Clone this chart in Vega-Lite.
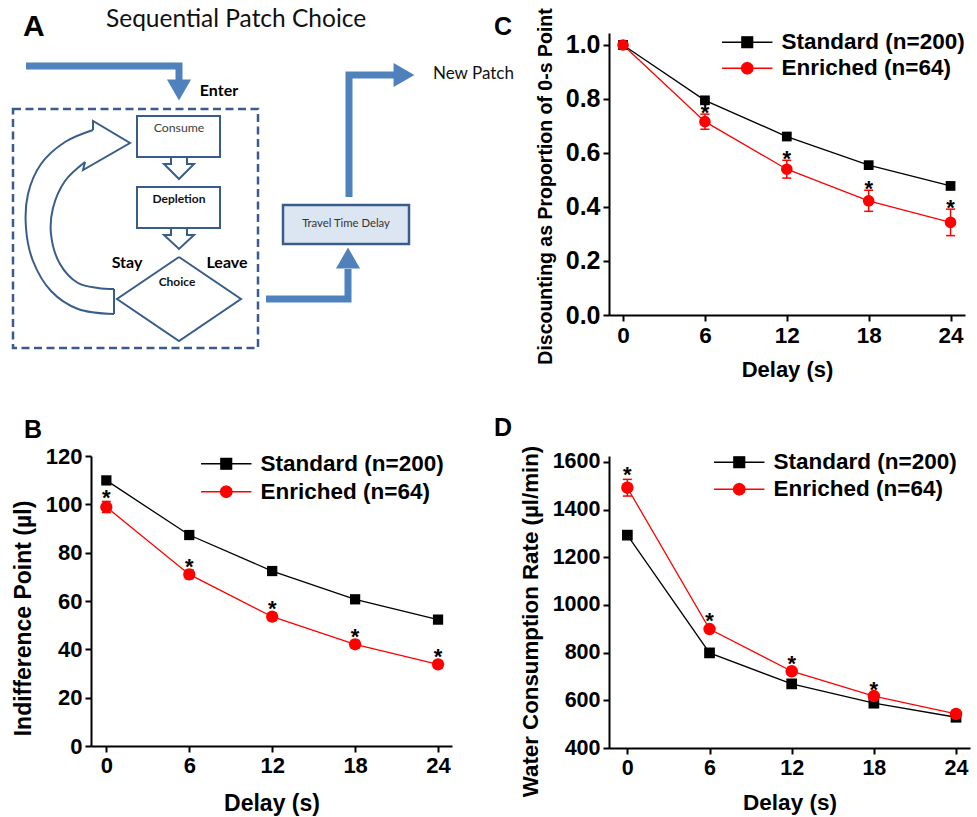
{
  "$schema": "https://vega.github.io/schema/vega-lite/v6.json",
  "background": "white",
  "padding": {"left": 11, "top": 7, "right": 2, "bottom": 2},
  "bounds": "flush",
  "align": "each",
  "columns": 2,
  "spacing": {"row": 141, "column": 111},
  "resolve": {
    "scale": {"color": "independent", "shape": "independent", "stroke": "independent", "fill": "independent", "size": "independent"},
    "legend": {"color": "independent", "shape": "independent", "stroke": "independent", "fill": "independent", "size": "independent"}
  },
  "config": {
    "view": {"stroke": null},
    "font": "Liberation Sans",
    "axis": {"grid": false, "domainColor": "#000000", "domainWidth": 2, "tickColor": "#000000", "tickWidth": 2, "tickSize": 6,
      "labelFont": "Liberation Sans", "labelFontSize": 22, "labelFontWeight": "bold", "labelColor": "#000000", "labelPadding": 3,
      "titleFont": "Liberation Sans", "titleFontSize": 22.5, "titleFontWeight": "bold", "titleColor": "#000000", "labelFlush": false, "labelOverlap": false},
    "legend": {"orient": "none", "title": null, "labelFont": "Liberation Sans", "labelFontSize": 22.5, "labelFontWeight": "bold", "labelColor": "#000000", "symbolSize": 144, "labelOffset": 23, "padding": 0, "labelLimit": 400}
  },
  "datasets": {
    "B": [
      {"delay": 0, "group": "Standard (n=200)", "value": 109.9, "lo": 108.9, "hi": 110.9, "sig": ""},
      {"delay": 6, "group": "Standard (n=200)", "value": 87.3, "lo": 86.5, "hi": 88.1, "sig": ""},
      {"delay": 12, "group": "Standard (n=200)", "value": 72.4, "lo": 71.7, "hi": 73.1, "sig": ""},
      {"delay": 18, "group": "Standard (n=200)", "value": 60.7, "lo": 60.0, "hi": 61.4, "sig": ""},
      {"delay": 24, "group": "Standard (n=200)", "value": 52.3, "lo": 51.6, "hi": 53.0, "sig": ""},
      {"delay": 0, "group": "Enriched (n=64)", "value": 98.9, "lo": 96.6, "hi": 101.2, "sig": "*"},
      {"delay": 6, "group": "Enriched (n=64)", "value": 71.0, "lo": 69.2, "hi": 72.8, "sig": "*"},
      {"delay": 12, "group": "Enriched (n=64)", "value": 53.5, "lo": 51.9, "hi": 55.1, "sig": "*"},
      {"delay": 18, "group": "Enriched (n=64)", "value": 42.1, "lo": 40.5, "hi": 43.7, "sig": "*"},
      {"delay": 24, "group": "Enriched (n=64)", "value": 33.8, "lo": 32.4, "hi": 35.2, "sig": "*"}
    ],
    "C": [
      {"delay": 0, "group": "Standard (n=200)", "value": 1.0, "lo": 0.99, "hi": 1.01, "sig": ""},
      {"delay": 6, "group": "Standard (n=200)", "value": 0.795, "lo": 0.787, "hi": 0.803, "sig": ""},
      {"delay": 12, "group": "Standard (n=200)", "value": 0.661, "lo": 0.653, "hi": 0.669, "sig": ""},
      {"delay": 18, "group": "Standard (n=200)", "value": 0.555, "lo": 0.547, "hi": 0.563, "sig": ""},
      {"delay": 24, "group": "Standard (n=200)", "value": 0.478, "lo": 0.470, "hi": 0.486, "sig": ""},
      {"delay": 0, "group": "Enriched (n=64)", "value": 1.0, "lo": 0.985, "hi": 1.015, "sig": ""},
      {"delay": 6, "group": "Enriched (n=64)", "value": 0.716, "lo": 0.688, "hi": 0.744, "sig": "*"},
      {"delay": 12, "group": "Enriched (n=64)", "value": 0.540, "lo": 0.507, "hi": 0.573, "sig": "*"},
      {"delay": 18, "group": "Enriched (n=64)", "value": 0.423, "lo": 0.384, "hi": 0.462, "sig": "*"},
      {"delay": 24, "group": "Enriched (n=64)", "value": 0.343, "lo": 0.294, "hi": 0.392, "sig": "*"}
    ],
    "D": [
      {"delay": 0, "group": "Standard (n=200)", "value": 1293, "lo": 1283, "hi": 1303, "sig": ""},
      {"delay": 6, "group": "Standard (n=200)", "value": 799, "lo": 791, "hi": 807, "sig": ""},
      {"delay": 12, "group": "Standard (n=200)", "value": 669, "lo": 662, "hi": 676, "sig": ""},
      {"delay": 18, "group": "Standard (n=200)", "value": 588, "lo": 582, "hi": 594, "sig": ""},
      {"delay": 24, "group": "Standard (n=200)", "value": 529, "lo": 523, "hi": 535, "sig": ""},
      {"delay": 0, "group": "Enriched (n=64)", "value": 1492, "lo": 1457, "hi": 1527, "sig": "*"},
      {"delay": 6, "group": "Enriched (n=64)", "value": 899, "lo": 886, "hi": 912, "sig": "*"},
      {"delay": 12, "group": "Enriched (n=64)", "value": 722, "lo": 712, "hi": 732, "sig": "*"},
      {"delay": 18, "group": "Enriched (n=64)", "value": 618, "lo": 610, "hi": 626, "sig": "*"},
      {"delay": 24, "group": "Enriched (n=64)", "value": 543, "lo": 537, "hi": 549, "sig": ""}
    ],
    "arrows": [
      {"part": "p1", "seq": 1, "x": 28, "y": 65}, {"part": "p1", "seq": 2, "x": 181, "y": 65}, {"part": "p1", "seq": 3, "x": 181, "y": 80},
      {"part": "p2", "seq": 1, "x": 268, "y": 298}, {"part": "p2", "seq": 2, "x": 350, "y": 298}, {"part": "p2", "seq": 3, "x": 350, "y": 268},
      {"part": "p3", "seq": 1, "x": 351, "y": 196}, {"part": "p3", "seq": 2, "x": 351, "y": 74}, {"part": "p3", "seq": 3, "x": 397, "y": 74}
    ],
    "heads": [
      {"dir": "down", "x": 181, "y": 89},
      {"dir": "up", "x": 350, "y": 257},
      {"dir": "right", "x": 406, "y": 74}
    ],
    "boxes": [
      {"kind": "frame", "x": 15, "x2": 260, "y": 108, "y2": 347},
      {"kind": "box", "x": 139, "x2": 222, "y": 115, "y2": 156},
      {"kind": "box", "x": 139, "x2": 222, "y": 186, "y2": 227},
      {"kind": "travel", "x": 285, "x2": 411, "y": 204, "y2": 243}
    ],
    "outlines": [
      {"part": "diamond", "seq": 1, "x": 181, "y": 256}, {"part": "diamond", "seq": 2, "x": 243, "y": 298}, {"part": "diamond", "seq": 3, "x": 181, "y": 340}, {"part": "diamond", "seq": 4, "x": 119, "y": 298}, {"part": "diamond", "seq": 5, "x": 181, "y": 256},
      {"part": "a1", "seq": 1, "x": 173, "y": 156}, {"part": "a1", "seq": 2, "x": 173, "y": 163}, {"part": "a1", "seq": 3, "x": 166, "y": 163}, {"part": "a1", "seq": 4, "x": 181, "y": 178}, {"part": "a1", "seq": 5, "x": 196, "y": 163}, {"part": "a1", "seq": 6, "x": 189, "y": 163}, {"part": "a1", "seq": 7, "x": 189, "y": 156},
      {"part": "a2", "seq": 1, "x": 173, "y": 227}, {"part": "a2", "seq": 2, "x": 173, "y": 234}, {"part": "a2", "seq": 3, "x": 166, "y": 234}, {"part": "a2", "seq": 4, "x": 181, "y": 248}, {"part": "a2", "seq": 5, "x": 196, "y": 234}, {"part": "a2", "seq": 6, "x": 189, "y": 234}, {"part": "a2", "seq": 7, "x": 189, "y": 227},
      {"part": "head", "seq": 1, "x": 95, "y": 129}, {"part": "head", "seq": 2, "x": 95, "y": 120}, {"part": "head", "seq": 3, "x": 132, "y": 142}, {"part": "head", "seq": 4, "x": 85, "y": 169}, {"part": "head", "seq": 5, "x": 87, "y": 161},
      {"part": "cap", "seq": 1, "x": 116, "y": 288}, {"part": "cap", "seq": 2, "x": 116, "y": 313}
    ],
    "curves": [
      {"part": "outer", "seq": 1, "x": 116, "y": 313}, {"part": "outer", "seq": 2, "x": 80, "y": 308}, {"part": "outer", "seq": 3, "x": 53, "y": 290}, {"part": "outer", "seq": 4, "x": 35, "y": 260}, {"part": "outer", "seq": 5, "x": 28, "y": 227}, {"part": "outer", "seq": 6, "x": 30, "y": 193}, {"part": "outer", "seq": 7, "x": 43, "y": 163}, {"part": "outer", "seq": 8, "x": 67, "y": 141}, {"part": "outer", "seq": 9, "x": 95, "y": 129},
      {"part": "inner", "seq": 1, "x": 87, "y": 161}, {"part": "inner", "seq": 2, "x": 67, "y": 180}, {"part": "inner", "seq": 3, "x": 55, "y": 207}, {"part": "inner", "seq": 4, "x": 53, "y": 233}, {"part": "inner", "seq": 5, "x": 62, "y": 263}, {"part": "inner", "seq": 6, "x": 80, "y": 282}, {"part": "inner", "seq": 7, "x": 100, "y": 287}, {"part": "inner", "seq": 8, "x": 116, "y": 288}
    ],
    "labels": [
      {"kind": "title", "text": "Sequential Patch Choice", "x": 108, "y": 19},
      {"kind": "panel", "text": "A", "x": 25, "y": 26},
      {"kind": "bold16", "text": "Enter", "x": 221, "y": 90},
      {"kind": "bold16", "text": "Stay", "x": 129, "y": 262},
      {"kind": "bold16", "text": "Leave", "x": 229, "y": 262},
      {"kind": "bold12", "text": "Depletion", "x": 181, "y": 198},
      {"kind": "bold12", "text": "Choice", "x": 179, "y": 281},
      {"kind": "plain12", "text": "Consume", "x": 181, "y": 127},
      {"kind": "travel", "text": "Travel Time Delay", "x": 348, "y": 223},
      {"kind": "newpatch", "text": "New Patch", "x": 435, "y": 73}
    ]
  },
  "concat": [
    {
      "width": 407, "height": 282,
      "encoding": {
        "x": {"field": "x", "type": "quantitative", "scale": {"domain": [93, 500], "nice": false, "zero": false}, "axis": null},
        "y": {"field": "y", "type": "quantitative", "scale": {"domain": [32, 314], "nice": false, "zero": false, "reverse": true}, "axis": null}
      },
      "layer": [
        {"data": {"name": "boxes"}, "transform": [{"filter": "datum.kind == 'frame'"}], "mark": {"type": "rect", "fill": "transparent", "stroke": "#385D8A", "strokeWidth": 2.5, "strokeDash": [8, 4.5]}, "encoding": {"x2": {"field": "x2"}, "y2": {"field": "y2"}}},
        {"data": {"name": "boxes"}, "transform": [{"filter": "datum.kind == 'box'"}], "mark": {"type": "rect", "fill": "#ffffff", "stroke": "#385D8A", "strokeWidth": 2}, "encoding": {"x2": {"field": "x2"}, "y2": {"field": "y2"}}},
        {"data": {"name": "boxes"}, "transform": [{"filter": "datum.kind == 'travel'"}], "mark": {"type": "rect", "fill": "#DCE6F2", "stroke": "#385D8A", "strokeWidth": 2.5}, "encoding": {"x2": {"field": "x2"}, "y2": {"field": "y2"}}},
        {"data": {"name": "outlines"}, "mark": {"type": "line", "color": "#385D8A", "strokeWidth": 2, "strokeJoin": "miter"}, "encoding": {"detail": {"field": "part"}, "order": {"field": "seq", "type": "quantitative"}}},
        {"data": {"name": "curves"}, "mark": {"type": "line", "color": "#385D8A", "strokeWidth": 2, "interpolate": "catmull-rom"}, "encoding": {"detail": {"field": "part"}, "order": {"field": "seq", "type": "quantitative"}}},
        {"data": {"name": "arrows"}, "mark": {"type": "line", "color": "#4F81BD", "strokeWidth": 7, "strokeJoin": "miter", "strokeCap": "butt"}, "encoding": {"detail": {"field": "part"}, "order": {"field": "seq", "type": "quantitative"}}},
        {"data": {"name": "heads"}, "mark": {"type": "point", "filled": true, "opacity": 1, "color": "#4F81BD", "size": 580}, "encoding": {"shape": {"field": "dir", "type": "nominal", "scale": {"domain": ["down", "up", "right"], "range": ["triangle-down", "triangle-up", "triangle-right"]}, "legend": null}}},
        {"data": {"name": "labels"}, "transform": [{"filter": "datum.kind == 'title'"}], "mark": {"type": "text", "font": "Lato", "fontSize": 24.5, "align": "left", "baseline": "middle", "color": "#111111"}, "encoding": {"text": {"field": "text"}}},
        {"data": {"name": "labels"}, "transform": [{"filter": "datum.kind == 'panel'"}], "mark": {"type": "text", "font": "Liberation Sans", "fontWeight": "bold", "fontSize": 30, "align": "left", "baseline": "middle", "color": "#000000"}, "encoding": {"text": {"field": "text"}}},
        {"data": {"name": "labels"}, "transform": [{"filter": "datum.kind == 'bold16'"}], "mark": {"type": "text", "font": "Lato", "fontWeight": "bold", "fontSize": 16, "align": "center", "baseline": "middle", "color": "#000000"}, "encoding": {"text": {"field": "text"}}},
        {"data": {"name": "labels"}, "transform": [{"filter": "datum.kind == 'bold12'"}], "mark": {"type": "text", "font": "Lato", "fontWeight": "bold", "fontSize": 12, "align": "center", "baseline": "middle", "color": "#111111"}, "encoding": {"text": {"field": "text"}}},
        {"data": {"name": "labels"}, "transform": [{"filter": "datum.kind == 'plain12'"}], "mark": {"type": "text", "font": "Lato", "fontSize": 12.3, "align": "center", "baseline": "middle", "color": "#404040"}, "encoding": {"text": {"field": "text"}}},
        {"data": {"name": "labels"}, "transform": [{"filter": "datum.kind == 'travel'"}], "mark": {"type": "text", "font": "Lato", "fontSize": 11.3, "align": "center", "baseline": "middle", "color": "#333333"}, "encoding": {"text": {"field": "text"}}},
        {"data": {"name": "labels"}, "transform": [{"filter": "datum.kind == 'newpatch'"}], "mark": {"type": "text", "font": "Lato", "fontSize": 17, "align": "left", "baseline": "middle", "color": "#111111"}, "encoding": {"text": {"field": "text"}}}
      ]
    },
    {
      "width": 356, "height": 282,
      "data": {"name": "C"},
      "title": {"text": "C", "anchor": "start", "frame": "group", "font": "Liberation Sans", "fontSize": 25, "fontWeight": "bold", "color": "#000000", "baseline": "alphabetic", "offset": 0, "dx": -115, "dy": 52},
      "encoding": {
        "x": {"field": "delay", "type": "quantitative", "scale": {"domain": [-1.03, 25.06], "nice": false, "zero": false}, "axis": {"values": [0, 6, 12, 18, 24], "title": "Delay (s)", "titlePadding": 13, "labelFontSize": 22.5, "titleFontSize": 22}}
      },
      "layer": [
        {"mark": {"type": "line", "strokeWidth": 1.3}, "encoding": {
          "y": {"field": "value", "type": "quantitative", "scale": {"domain": [0, 1.0444], "nice": false, "zero": false}, "axis": {"values": [0, 0.2, 0.4, 0.6, 0.8, 1.0], "format": ".1f", "title": "Discounting as Proportion of 0-s Point", "titleFontSize": 19.5, "labelFontSize": 25, "titlePadding": 10, "titleY": 153}},
          "stroke": {"field": "group", "type": "nominal", "scale": {"domain": ["Enriched (n=64)", "Standard (n=200)"], "range": ["#ff0000", "#000000"]},
            "legend": {"legendX": 127, "legendY": -2, "rowPadding": 3, "values": ["Standard (n=200)", "Enriched (n=64)"], "symbolType": "M-4.2,0H4.2M-0.9,-0.9H0.9V0.9H-0.9Z", "symbolStrokeWidth": 1.3,
              "encoding": {"symbols": {
                "shape": {"value": {"expr": "datum.value == 'Standard (n=200)' ? 'M-4.2,0H4.2M-0.9,-0.9H0.9V0.9H-0.9Z' : 'M-4.2,0H4.2M0.97,0L0.84,0.485L0.485,0.84L0,0.97L-0.485,0.84L-0.84,0.485L-0.97,0L-0.84,-0.485L-0.485,-0.84L0,-0.97L0.485,-0.84L0.84,-0.485Z'"}},
                "fill": {"value": {"expr": "datum.value == 'Standard (n=200)' ? '#000000' : '#ff0000'"}}}}}}}},
        {"mark": {"type": "rule", "strokeWidth": 1.5}, "encoding": {
          "y": {"field": "lo", "type": "quantitative", "scale": {"domain": [0, 1.0444], "nice": false, "zero": false}, "title": "Discounting as Proportion of 0-s Point"},
          "y2": {"field": "hi"},
          "stroke": {"field": "group", "type": "nominal", "scale": {"domain": ["Enriched (n=64)", "Standard (n=200)"], "range": ["#ff0000", "#000000"]}, "legend": null}}},
        {"mark": {"type": "tick", "orient": "horizontal", "size": 9, "thickness": 1.5, "opacity": 1}, "encoding": {
          "y": {"field": "lo", "type": "quantitative", "scale": {"domain": [0, 1.0444], "nice": false, "zero": false}, "title": "Discounting as Proportion of 0-s Point"},
          "fill": {"field": "group", "type": "nominal", "scale": {"domain": ["Standard (n=200)", "Enriched (n=64)"], "range": ["#000000", "#ff0000"]}, "legend": null}}},
        {"mark": {"type": "tick", "orient": "horizontal", "size": 9, "thickness": 1.5, "opacity": 1}, "encoding": {
          "y": {"field": "hi", "type": "quantitative", "scale": {"domain": [0, 1.0444], "nice": false, "zero": false}, "title": "Discounting as Proportion of 0-s Point"},
          "fill": {"field": "group", "type": "nominal", "scale": {"domain": ["Standard (n=200)", "Enriched (n=64)"], "range": ["#000000", "#ff0000"]}, "legend": null}}},
        {"transform": [{"filter": "datum.group == 'Standard (n=200)'"}], "mark": {"type": "point", "filled": true, "opacity": 1, "shape": "square", "size": 95, "color": "#000000"}, "encoding": {
          "y": {"field": "value", "type": "quantitative", "scale": {"domain": [0, 1.0444], "nice": false, "zero": false}, "title": "Discounting as Proportion of 0-s Point"}}},
        {"transform": [{"filter": "datum.group == 'Enriched (n=64)'"}], "mark": {"type": "point", "filled": true, "opacity": 1, "shape": "circle", "size": 135, "color": "#ff0000"}, "encoding": {
          "y": {"field": "value", "type": "quantitative", "scale": {"domain": [0, 1.0444], "nice": false, "zero": false}, "title": "Discounting as Proportion of 0-s Point"}}},
        {"transform": [{"filter": "datum.sig != ''"}], "mark": {"type": "text", "font": "Liberation Sans", "fontWeight": "bold", "fontSize": 22, "baseline": "alphabetic", "dy": 6, "color": "#000000"}, "encoding": {
          "y": {"field": "hi", "type": "quantitative", "scale": {"domain": [0, 1.0444], "nice": false, "zero": false}, "title": "Discounting as Proportion of 0-s Point"},
          "text": {"field": "sig"}}}
      ]
    },
    {
      "width": 361, "height": 290,
      "data": {"name": "B"},
      "title": {"text": "B", "anchor": "start", "frame": "group", "font": "Liberation Sans", "fontSize": 25, "fontWeight": "bold", "color": "#000000", "baseline": "alphabetic", "offset": 0, "dx": -67, "dy": 18},
      "encoding": {
        "x": {"field": "delay", "type": "quantitative", "scale": {"domain": [-1.11, 25.01], "nice": false, "zero": false}, "axis": {"values": [0, 6, 12, 18, 24], "title": "Delay (s)", "titlePadding": 16, "titleFontSize": 23}}
      },
      "layer": [
        {"mark": {"type": "line", "strokeWidth": 1.3}, "encoding": {
          "y": {"field": "value", "type": "quantitative", "scale": {"domain": [0, 120], "nice": false, "zero": false}, "axis": {"values": [0, 20, 40, 60, 80, 100, 120], "format": "d", "title": "Indifference Point (µl)", "titleFontSize": 23, "titlePadding": 10, "titleY": 162}},
          "stroke": {"field": "group", "type": "nominal", "scale": {"domain": ["Enriched (n=64)", "Standard (n=200)"], "range": ["#ff0000", "#000000"]},
            "legend": {"legendX": 124, "legendY": -3.5, "rowPadding": 5, "values": ["Standard (n=200)", "Enriched (n=64)"], "symbolType": "M-4.2,0H4.2M-0.9,-0.9H0.9V0.9H-0.9Z", "symbolStrokeWidth": 1.3,
              "encoding": {"symbols": {
                "shape": {"value": {"expr": "datum.value == 'Standard (n=200)' ? 'M-4.2,0H4.2M-0.9,-0.9H0.9V0.9H-0.9Z' : 'M-4.2,0H4.2M0.97,0L0.84,0.485L0.485,0.84L0,0.97L-0.485,0.84L-0.84,0.485L-0.97,0L-0.84,-0.485L-0.485,-0.84L0,-0.97L0.485,-0.84L0.84,-0.485Z'"}},
                "fill": {"value": {"expr": "datum.value == 'Standard (n=200)' ? '#000000' : '#ff0000'"}}}}}}}},
        {"mark": {"type": "rule", "strokeWidth": 1.5}, "encoding": {
          "y": {"field": "lo", "type": "quantitative", "scale": {"domain": [0, 120], "nice": false, "zero": false}, "title": "Indifference Point (µl)"},
          "y2": {"field": "hi"},
          "stroke": {"field": "group", "type": "nominal", "scale": {"domain": ["Enriched (n=64)", "Standard (n=200)"], "range": ["#ff0000", "#000000"]}, "legend": null}}},
        {"mark": {"type": "tick", "orient": "horizontal", "size": 9, "thickness": 1.5, "opacity": 1}, "encoding": {
          "y": {"field": "lo", "type": "quantitative", "scale": {"domain": [0, 120], "nice": false, "zero": false}, "title": "Indifference Point (µl)"},
          "fill": {"field": "group", "type": "nominal", "scale": {"domain": ["Standard (n=200)", "Enriched (n=64)"], "range": ["#000000", "#ff0000"]}, "legend": null}}},
        {"mark": {"type": "tick", "orient": "horizontal", "size": 9, "thickness": 1.5, "opacity": 1}, "encoding": {
          "y": {"field": "hi", "type": "quantitative", "scale": {"domain": [0, 120], "nice": false, "zero": false}, "title": "Indifference Point (µl)"},
          "fill": {"field": "group", "type": "nominal", "scale": {"domain": ["Standard (n=200)", "Enriched (n=64)"], "range": ["#000000", "#ff0000"]}, "legend": null}}},
        {"transform": [{"filter": "datum.group == 'Standard (n=200)'"}], "mark": {"type": "point", "filled": true, "opacity": 1, "shape": "square", "size": 105, "color": "#000000"}, "encoding": {
          "y": {"field": "value", "type": "quantitative", "scale": {"domain": [0, 120], "nice": false, "zero": false}, "title": "Indifference Point (µl)"}}},
        {"transform": [{"filter": "datum.group == 'Enriched (n=64)'"}], "mark": {"type": "point", "filled": true, "opacity": 1, "shape": "circle", "size": 150, "color": "#ff0000"}, "encoding": {
          "y": {"field": "value", "type": "quantitative", "scale": {"domain": [0, 120], "nice": false, "zero": false}, "title": "Indifference Point (µl)"}}},
        {"transform": [{"filter": "datum.sig != ''"}], "mark": {"type": "text", "font": "Liberation Sans", "fontWeight": "bold", "fontSize": 22, "baseline": "alphabetic", "dy": 3.5, "color": "#000000"}, "encoding": {
          "y": {"field": "hi", "type": "quantitative", "scale": {"domain": [0, 120], "nice": false, "zero": false}, "title": "Indifference Point (µl)"},
          "text": {"field": "sig"}}}
      ]
    },
    {
      "width": 361, "height": 292,
      "data": {"name": "D"},
      "title": {"text": "D", "anchor": "start", "frame": "group", "font": "Liberation Sans", "fontSize": 25, "fontWeight": "bold", "color": "#000000", "baseline": "alphabetic", "offset": 0, "dx": -115, "dy": 16},
      "encoding": {
        "x": {"field": "delay", "type": "quantitative", "scale": {"domain": [-1.34, 25.02], "nice": false, "zero": false}, "axis": {"values": [0, 6, 12, 18, 24], "title": "Delay (s)", "titlePadding": 13, "labelFontSize": 21.5}}
      },
      "layer": [
        {"mark": {"type": "line", "strokeWidth": 1.3}, "encoding": {
          "y": {"field": "value", "type": "quantitative", "scale": {"domain": [400, 1625], "nice": false, "zero": false}, "axis": {"values": [400, 600, 800, 1000, 1200, 1400, 1600], "format": "d", "title": "Water Consumption Rate (µl/min)", "titleFontSize": 22.3, "labelFontSize": 21.5, "titlePadding": 10, "titleY": 165}},
          "stroke": {"field": "group", "type": "nominal", "scale": {"domain": ["Enriched (n=64)", "Standard (n=200)"], "range": ["#ff0000", "#000000"]},
            "legend": {"legendX": 119, "legendY": -5, "rowPadding": 4, "values": ["Standard (n=200)", "Enriched (n=64)"], "symbolType": "M-4.2,0H4.2M-0.9,-0.9H0.9V0.9H-0.9Z", "symbolStrokeWidth": 1.3,
              "encoding": {"symbols": {
                "shape": {"value": {"expr": "datum.value == 'Standard (n=200)' ? 'M-4.2,0H4.2M-0.9,-0.9H0.9V0.9H-0.9Z' : 'M-4.2,0H4.2M0.97,0L0.84,0.485L0.485,0.84L0,0.97L-0.485,0.84L-0.84,0.485L-0.97,0L-0.84,-0.485L-0.485,-0.84L0,-0.97L0.485,-0.84L0.84,-0.485Z'"}},
                "fill": {"value": {"expr": "datum.value == 'Standard (n=200)' ? '#000000' : '#ff0000'"}}}}}}}},
        {"mark": {"type": "rule", "strokeWidth": 1.5}, "encoding": {
          "y": {"field": "lo", "type": "quantitative", "scale": {"domain": [400, 1625], "nice": false, "zero": false}, "title": "Water Consumption Rate (µl/min)"},
          "y2": {"field": "hi"},
          "stroke": {"field": "group", "type": "nominal", "scale": {"domain": ["Enriched (n=64)", "Standard (n=200)"], "range": ["#ff0000", "#000000"]}, "legend": null}}},
        {"mark": {"type": "tick", "orient": "horizontal", "size": 9, "thickness": 1.5, "opacity": 1}, "encoding": {
          "y": {"field": "lo", "type": "quantitative", "scale": {"domain": [400, 1625], "nice": false, "zero": false}, "title": "Water Consumption Rate (µl/min)"},
          "fill": {"field": "group", "type": "nominal", "scale": {"domain": ["Standard (n=200)", "Enriched (n=64)"], "range": ["#000000", "#ff0000"]}, "legend": null}}},
        {"mark": {"type": "tick", "orient": "horizontal", "size": 9, "thickness": 1.5, "opacity": 1}, "encoding": {
          "y": {"field": "hi", "type": "quantitative", "scale": {"domain": [400, 1625], "nice": false, "zero": false}, "title": "Water Consumption Rate (µl/min)"},
          "fill": {"field": "group", "type": "nominal", "scale": {"domain": ["Standard (n=200)", "Enriched (n=64)"], "range": ["#000000", "#ff0000"]}, "legend": null}}},
        {"transform": [{"filter": "datum.group == 'Standard (n=200)'"}], "mark": {"type": "point", "filled": true, "opacity": 1, "shape": "square", "size": 115, "color": "#000000"}, "encoding": {
          "y": {"field": "value", "type": "quantitative", "scale": {"domain": [400, 1625], "nice": false, "zero": false}, "title": "Water Consumption Rate (µl/min)"}}},
        {"transform": [{"filter": "datum.group == 'Enriched (n=64)'"}], "mark": {"type": "point", "filled": true, "opacity": 1, "shape": "circle", "size": 155, "color": "#ff0000"}, "encoding": {
          "y": {"field": "value", "type": "quantitative", "scale": {"domain": [400, 1625], "nice": false, "zero": false}, "title": "Water Consumption Rate (µl/min)"}}},
        {"transform": [{"filter": "datum.sig != ''"}], "mark": {"type": "text", "font": "Liberation Sans", "fontWeight": "bold", "fontSize": 22, "baseline": "alphabetic", "dy": 2.5, "color": "#000000"}, "encoding": {
          "y": {"field": "hi", "type": "quantitative", "scale": {"domain": [400, 1625], "nice": false, "zero": false}, "title": "Water Consumption Rate (µl/min)"},
          "text": {"field": "sig"}}}
      ]
    }
  ]
}
